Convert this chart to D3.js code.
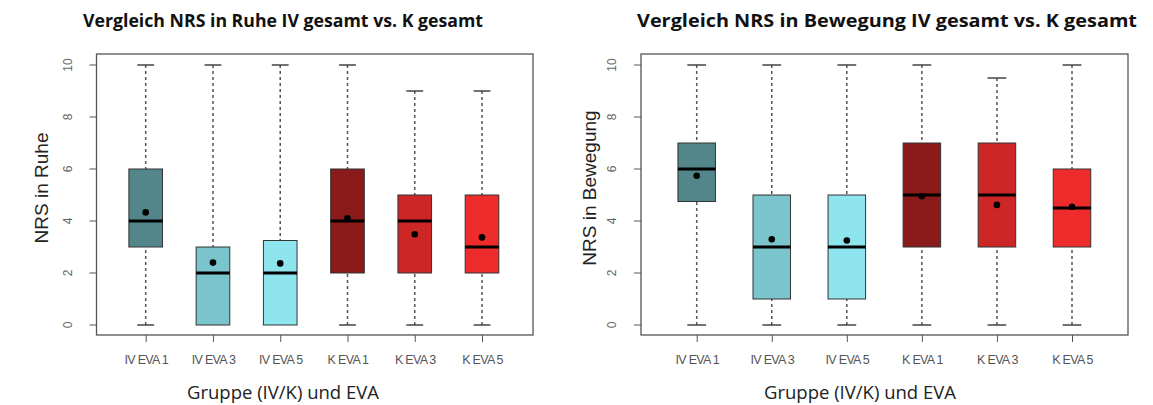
<!DOCTYPE html>
<html><head><meta charset="utf-8">
<script src="https://cdn.jsdelivr.net/npm/d3@7"></script>
<style>body{margin:0;background:#fff;} svg{display:block;}</style>
</head><body>
<svg id="c" width="1153" height="405"></svg>
<script>
const categories = ["IV EVA 1","IV EVA 3","IV EVA 5","K EVA 1","K EVA 3","K EVA 5"];
const colors = ["#53868B","#7AC5CD","#8EE5EE","#8B1A1A","#CD2626","#EE2C2C"];
const yTicks = [0,2,4,6,8,10];
// Ruhe: min, q1, median, q3, max, mean
const ruheMin = [0,0,0,0,0,0];
const ruheQ1  = [3,0,0,2,2,2];
const ruheMed = [4,2,2,4,4,3];
const ruheQ3  = [6,3,3.25,6,5,5];
const ruheMax = [10,10,10,10,9,9];
const ruheMean= [4.33,2.4,2.37,4.1,3.49,3.37];
// Bewegung
const bewMin = [0,0,0,0,0,0];
const bewQ1  = [4.75,1,1,3,3,3];
const bewMed = [6,3,3,5,5,4.5];
const bewQ3  = [7,5,5,7,7,6];
const bewMax = [10,10,10,10,9.5,10];
const bewMean= [5.74,3.3,3.25,4.95,4.62,4.55];

const svg = d3.select("#c");

function panel(cfg){
  const g = svg.append("g");
  const y = d3.scaleLinear().domain([0,10]).range([325,65]);
  const x = d3.scalePoint().domain(categories).range([cfg.x0, cfg.x1]);
  const step = x.step();
  const bw = step*0.5;
  // frame
  g.append("rect").attr("x",cfg.bl).attr("y",54).attr("width",cfg.br-cfg.bl).attr("height",281)
    .attr("fill","none").attr("stroke","#555").attr("stroke-width",1.3);
  // y axis
  const ya = g.append("g").attr("transform",`translate(${cfg.bl},0)`)
    .call(d3.axisLeft(y).tickValues(yTicks).tickSize(7).tickFormat(d3.format("d")));
  ya.select(".domain").remove();
  ya.selectAll(".tick").attr("transform",null);
  ya.selectAll(".tick line").attr("stroke","#555").attr("y1",d=>y(d)).attr("y2",d=>y(d)).attr("x2",-7);
  ya.selectAll(".tick text").attr("transform",function(d){return `translate(${-29},${y(d)}) rotate(-90)`;})
    .attr("x",0).attr("y",0).attr("dy","0.35em").attr("text-anchor","middle")
    .attr("font-family","Liberation Sans, Arial, sans-serif").attr("font-size",12).attr("fill","#666");
  // x axis
  const xa = g.append("g").attr("transform","translate(0,335)")
    .call(d3.axisBottom(x).tickSize(7).tickPadding(13));
  xa.select(".domain").remove();
  xa.selectAll("line").attr("stroke","#555");
  xa.selectAll("text").attr("font-family","Liberation Sans, Arial, sans-serif")
    .attr("font-size",12.5).attr("fill","#555").attr("letter-spacing","-0.7px");
  // boxes
  const d = categories.map((c,i)=>({c,i,min:cfg.mn[i],q1:cfg.q1[i],med:cfg.md[i],q3:cfg.q3[i],max:cfg.mx[i],mean:cfg.me[i]}));
  const b = g.selectAll(".b").data(d).enter().append("g");
  b.filter(e=>e.max>e.q3).append("line").attr("x1",e=>x(e.c)).attr("x2",e=>x(e.c)).attr("y1",e=>y(e.max)).attr("y2",e=>y(e.q3))
    .attr("stroke","#555").attr("stroke-width",1.5).attr("stroke-dasharray","3,3");
  b.filter(e=>e.q1>e.min).append("line").attr("x1",e=>x(e.c)).attr("x2",e=>x(e.c)).attr("y1",e=>y(e.min)).attr("y2",e=>y(e.q1))
    .attr("stroke","#555").attr("stroke-width",1.5).attr("stroke-dasharray","3,3");
  b.filter(e=>e.max>e.q3).append("line").attr("x1",e=>x(e.c)-bw/4).attr("x2",e=>x(e.c)+bw/4).attr("y1",e=>y(e.max)).attr("y2",e=>y(e.max))
    .attr("stroke","#444").attr("stroke-width",1.5);
  b.filter(e=>e.q1>e.min).append("line").attr("x1",e=>x(e.c)-bw/4).attr("x2",e=>x(e.c)+bw/4).attr("y1",e=>y(e.min)).attr("y2",e=>y(e.min))
    .attr("stroke","#444").attr("stroke-width",1.5);
  b.append("rect").attr("x",e=>x(e.c)-bw/2).attr("width",bw).attr("y",e=>y(e.q3)).attr("height",e=>y(e.q1)-y(e.q3))
    .attr("fill",e=>colors[e.i]).attr("stroke","#333").attr("stroke-width",1);
  b.append("line").attr("x1",e=>x(e.c)-bw/2).attr("x2",e=>x(e.c)+bw/2).attr("y1",e=>y(e.med)).attr("y2",e=>y(e.med))
    .attr("stroke","#000").attr("stroke-width",3);
  b.append("circle").attr("cx",e=>x(e.c)).attr("cy",e=>y(e.mean)).attr("r",3.3).attr("fill","#000");
  // titles
  g.append("text").attr("x",cfg.tx).attr("y",27).attr("text-anchor","middle")
    .attr("font-family","Open Sans, Lato, sans-serif").attr("font-weight","bold").attr("font-size",17)
    .attr("textLength",cfg.tw).attr("lengthAdjust","spacingAndGlyphs").attr("fill","#111").text(cfg.title);
  g.append("text").attr("transform",`translate(${cfg.ylx},188) rotate(-90)`).attr("text-anchor","middle")
    .attr("font-family","Liberation Sans, Arial, sans-serif").attr("font-size",19).attr("fill","#222").text(cfg.ylab);
  g.append("text").attr("x",cfg.xlx).attr("y",399).attr("text-anchor","middle")
    .attr("font-family","Open Sans, sans-serif").attr("font-size",18.5).attr("fill","#222").text("Gruppe (IV/K) und EVA");
}

panel({x0:145.7,x1:482,bl:96.5,br:533,mn:ruheMin,q1:ruheQ1,md:ruheMed,q3:ruheQ3,mx:ruheMax,me:ruheMean,
  title:"Vergleich NRS in Ruhe IV gesamt vs. K gesamt",tx:283,tw:400,ylab:"NRS in Ruhe",ylx:48,xlx:283});
panel({x0:696.7,x1:1072,bl:641,br:1128,mn:bewMin,q1:bewQ1,md:bewMed,q3:bewQ3,mx:bewMax,me:bewMean,
  title:"Vergleich NRS in Bewegung IV gesamt vs. K gesamt",tx:887,tw:500,ylab:"NRS in Bewegung",ylx:596,xlx:860});
</script>
</body></html>
